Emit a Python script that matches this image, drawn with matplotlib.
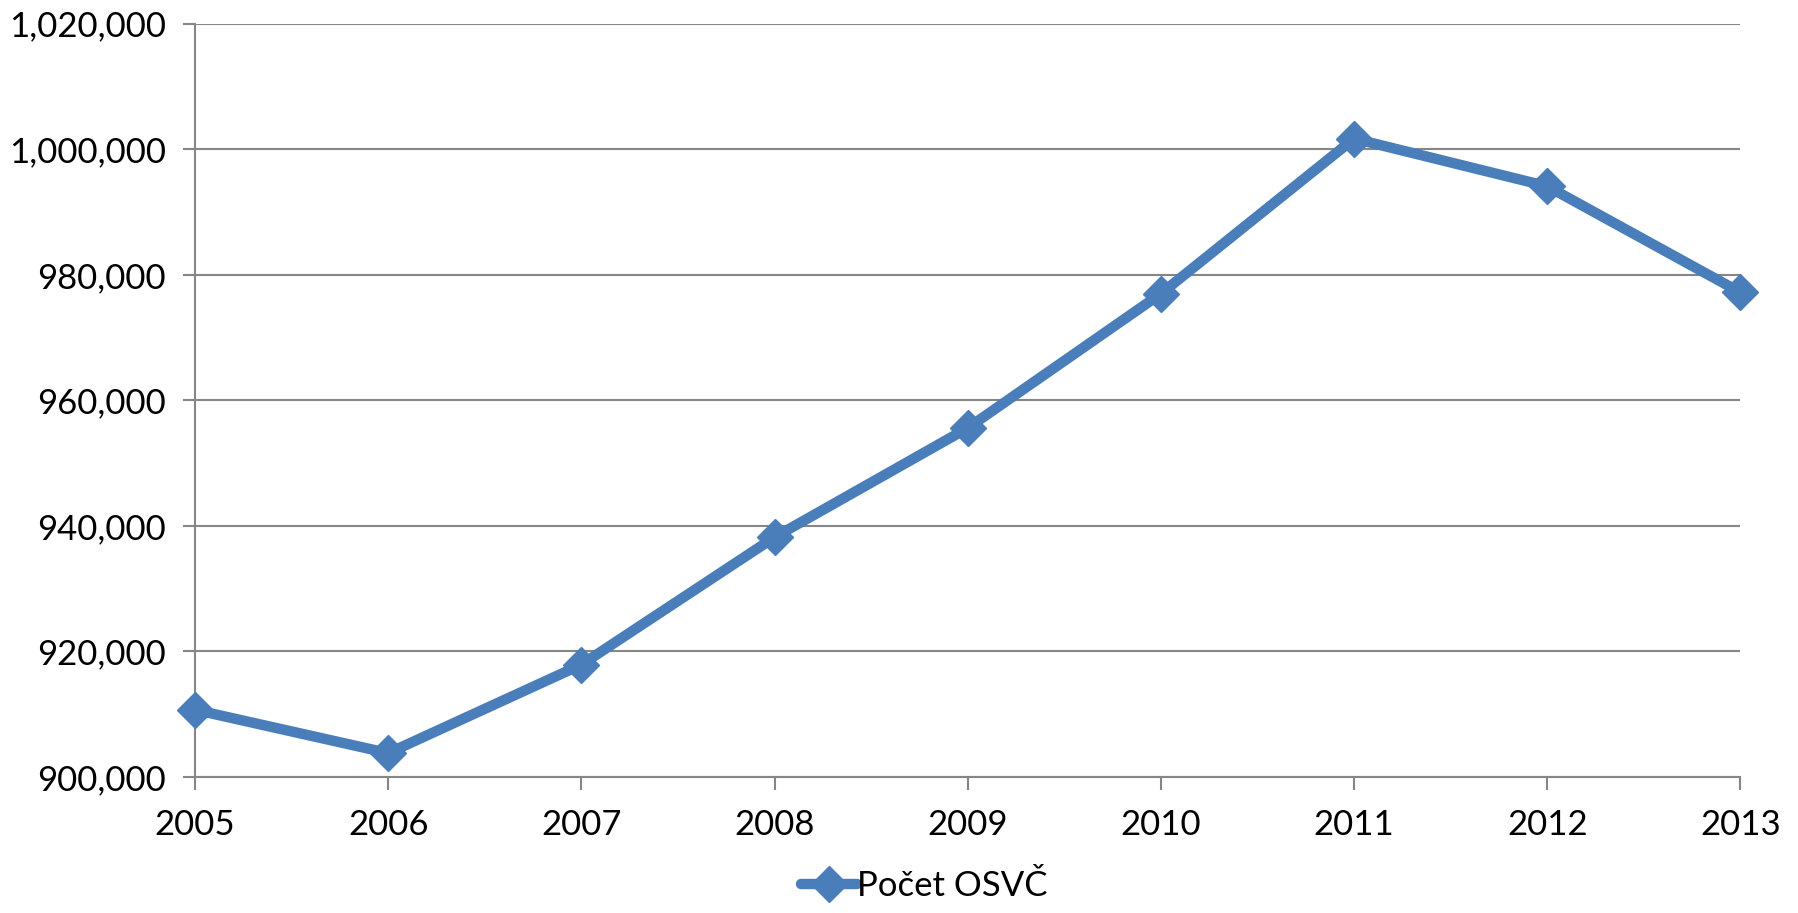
import matplotlib.pyplot as plt
from matplotlib.ticker import FuncFormatter

years = [2005, 2006, 2007, 2008, 2009, 2010, 2011, 2012, 2013]
osvc = [910700, 903800, 917900, 938200, 955600, 977000, 1001700, 994100, 977200]
series_name = 'Počet OSVČ'

plt.rcParams['font.family'] = ['Lato', 'DejaVu Sans']

fig = plt.figure(figsize=(17.98, 9.13), dpi=100)
ax = fig.add_axes([0.1085, 0.149, 0.8595, 0.825])

blue = '#4A7EBB'
grey = '#868686'

ax.plot(years, osvc, color=blue, linewidth=7.5, marker='D', markersize=18,
        label=series_name, solid_capstyle='round', clip_on=False, zorder=3)

ax.set_xlim(2005, 2013)
ax.set_ylim(900000, 1020000)
ax.set_xticks(years)
ax.set_yticks(range(900000, 1020001, 20000))
ax.yaxis.set_major_formatter(FuncFormatter(lambda v, p: f'{int(v):,}'))

ax.grid(axis='y', color=grey, linewidth=1.5)
ax.set_axisbelow(True)
for s in ['top', 'right']:
    ax.spines[s].set_visible(False)
for s in ['left', 'bottom']:
    ax.spines[s].set_color(grey)
    ax.spines[s].set_linewidth(1.5)
ax.tick_params(axis='both', colors=grey, width=1.5, length=9, labelsize=25,
               labelcolor='black')
ax.tick_params(axis='x', pad=14)
ax.tick_params(axis='y', pad=12)

# legend under the axis, a bit right of centre like the original
leg = fig.legend(loc='lower center', bbox_to_anchor=(0.514, -0.022), frameon=False,
                 fontsize=25, handlelength=1.6, handletextpad=0.0)

fig.savefig('out.png', dpi=100)
